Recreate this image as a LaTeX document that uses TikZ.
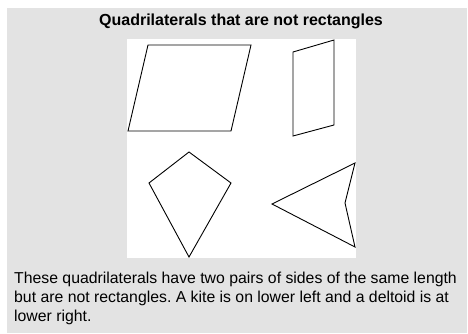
\documentclass[tikz,border=0pt]{standalone}
\usepackage{fontspec}
\setmainfont{Liberation Sans}
\definecolor{panelgray}{HTML}{E3E3E3}
\frenchspacing
\begin{document}
\begin{tikzpicture}[x=1pt,y=-1pt,
	figura/.style={draw=black, line width=0.9pt, line join=miter},
	titulo/.style={font=\bfseries\fontsize{16}{18}\selectfont},
	legenda/.style={font=\fontsize{15.8}{19}\selectfont, align=left, inner sep=0pt}]

	% Margens
	\useasboundingbox (0,0) rectangle (468,334);

	% Fundo cinza e painel branco
	\fill[panelgray] (7,8) rectangle (467,333);
	\fill[white] (127,39) rectangle (356,258);

	% Titulo
	\node[titulo] (titulo) at (241,21) {Quadrilaterals that are not rectangles};

	% Paralelogramo
	\draw[figura] (148,45) -- (251,45) -- (231,131) -- (128,131) -- cycle;

	% Quadrilatero estreito
	\draw[figura] (293,52) -- (334,40) -- (334,125) -- (293,136) -- cycle;

	% Pipa (kite)
	\draw[figura] (189,152) -- (231,183) -- (189,257) -- (149,183) -- cycle;

	% Deltoide
	\draw[figura] (272,204) -- (355,163) -- (345,203) -- (355,247) -- cycle;

	% Texto explicativo
	\node[legenda, anchor=north west] (texto) at (14,272) {These quadrilaterals have two pairs of sides of the same length\\
	but are not rectangles. A kite is on lower left and a deltoid is at\\
	lower right.};

\end{tikzpicture}
\end{document}
